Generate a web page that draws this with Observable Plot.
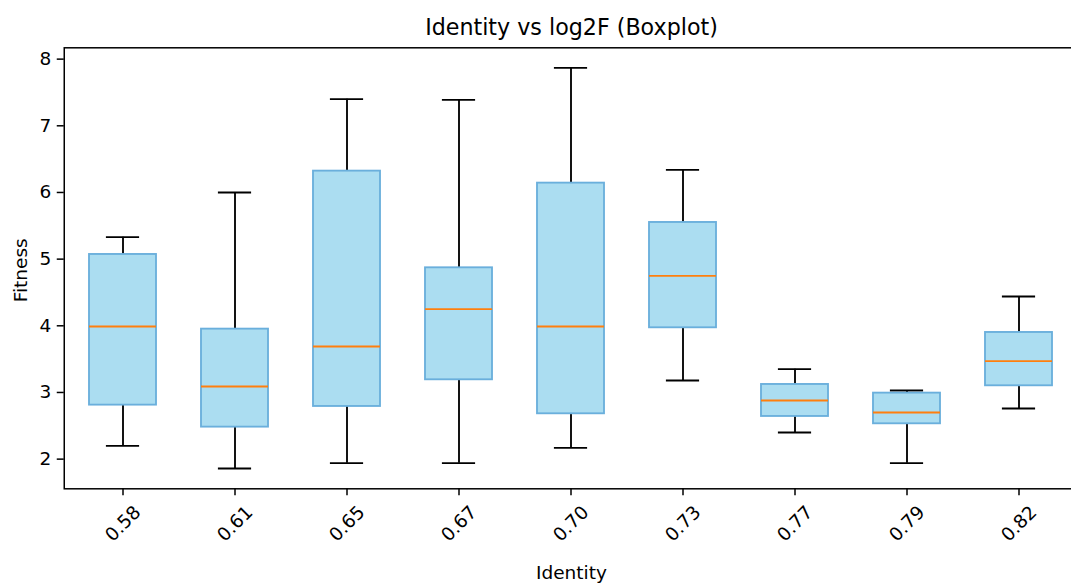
<!DOCTYPE html>
<html>
<head>
<meta charset="utf-8">
<script src="https://cdn.jsdelivr.net/npm/d3@7"></script>
<script src="https://cdn.jsdelivr.net/npm/@observablehq/plot@0.6"></script>
<style>
  html, body { margin: 0; padding: 0; background: white; overflow: hidden; }
  #chart svg { overflow: hidden; }
</style>
</head>
<body>
<div id="chart"></div>
<script>
// ---- data ----
const identity = ["0.58", "0.61", "0.65", "0.67", "0.70", "0.73", "0.77", "0.79", "0.82"];
const whiskerLow  = [2.20, 1.86, 1.94, 1.94, 2.17, 3.18, 2.40, 1.94, 2.76];
const q1          = [2.81, 2.48, 2.79, 3.19, 2.68, 3.97, 2.64, 2.53, 3.10];
const median      = [3.99, 3.09, 3.69, 4.25, 3.99, 4.75, 2.88, 2.70, 3.47];
const q3          = [5.07, 3.95, 6.32, 4.87, 6.14, 5.55, 3.12, 2.99, 3.90];
const whiskerHigh = [5.33, 6.00, 7.40, 7.39, 7.87, 6.34, 3.35, 3.03, 4.44];
const yTicks = [2, 3, 4, 5, 6, 7, 8];
const yDomain = [1.555, 8.17];

const titleText = "Identity vs log2F (Boxplot)";
const xLabel = "Identity";
const yLabel = "Fitness";

const rows = identity.map((id, i) => ({
  id, lo: whiskerLow[i], q1: q1[i], med: median[i], q3: q3[i], hi: whiskerHigh[i]
}));

const W = 1071, H = 583;
const marginLeft = 63.75, marginRight = -7.2, marginTop = 47.3, marginBottom = 94.7;
const step = (W - marginRight - marginLeft) / 9;
const capInset = step * 0.6 / 4;
const fs = 18.5;

const chart = Plot.plot({
  width: W,
  height: H,
  marginLeft, marginRight, marginTop, marginBottom,
  style: { fontFamily: "DejaVu Sans, sans-serif", fontSize: fs + "px", color: "black", background: "white" },
  x: { type: "band", domain: identity, paddingInner: 0.4, paddingOuter: 0.2, label: null },
  y: { domain: yDomain, label: null },
  marks: [
    // whiskers
    Plot.ruleX(rows, { x: "id", y1: "lo", y2: "q1", stroke: "black", strokeWidth: 1.85 }),
    Plot.ruleX(rows, { x: "id", y1: "q3", y2: "hi", stroke: "black", strokeWidth: 1.85 }),
    // caps
    Plot.tickY(rows, { x: "id", y: "lo", stroke: "black", strokeWidth: 1.85, insetLeft: capInset, insetRight: capInset }),
    Plot.tickY(rows, { x: "id", y: "hi", stroke: "black", strokeWidth: 1.85, insetLeft: capInset, insetRight: capInset }),
    // boxes
    Plot.barY(rows, { x: "id", y1: "q1", y2: "q3", fill: "#abddf1", stroke: "#6aafdc", strokeWidth: 1.85 }),
    // medians
    Plot.tickY(rows, { x: "id", y: "med", stroke: "#ff7f0e", strokeWidth: 1.85 }),
    // axes
    Plot.axisY({ ticks: yTicks, tickFormat: d => String(d), tickSize: 7, tickPadding: 6, fontSize: fs, strokeWidth: 1.5, label: null }),
    Plot.axisX({ tickSize: 7, fill: "none", strokeWidth: 1.5, label: null }),
    Plot.text(identity, { x: d => d, frameAnchor: "bottom", lineAnchor: "middle", textAnchor: "middle", dy: 35, rotate: -45, fontSize: fs, fill: "black" }),
    // labels & title
    Plot.text([xLabel], { frameAnchor: "bottom", lineAnchor: "middle", textAnchor: "middle", dy: 83.8, fontSize: fs, fill: "black" }),
    Plot.text([yLabel], { frameAnchor: "left", lineAnchor: "middle", textAnchor: "middle", dx: -42.9, dy: 2, rotate: -90, fontSize: fs, fill: "black" }),
    Plot.text([titleText], { frameAnchor: "top", lineAnchor: "middle", textAnchor: "middle", dy: -20, fontSize: 22.2, fill: "black" }),
    // spines
    Plot.frame({ stroke: "black", strokeWidth: 1.5 })
  ]
});

document.getElementById("chart").appendChild(chart);
</script>
</body>
</html>
